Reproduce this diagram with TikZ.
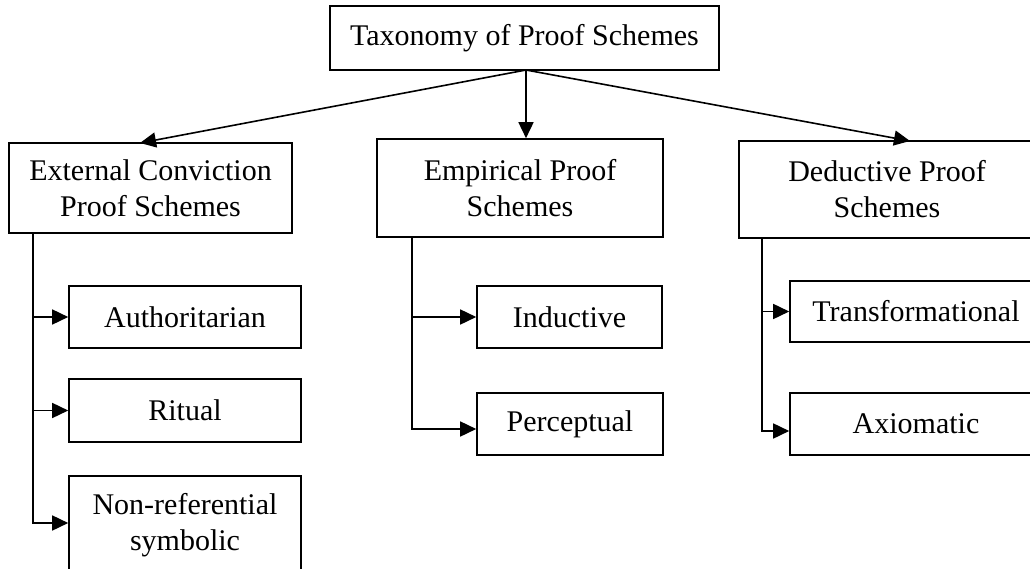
\documentclass[tikz,border=0pt]{standalone}
\usepackage{fontspec}
\setmainfont{Liberation Serif}
\usetikzlibrary{arrows.meta}
\begin{document}
\begin{tikzpicture}[x=1pt,y=-1pt,
  box/.style={draw,line width=1.6pt,rectangle,inner sep=0pt,align=center,
    font=\fontsize{30}{36}\selectfont},
  arr/.style={line width=1.6pt,-{Triangle[length=16pt,width=15pt]}}]
\useasboundingbox (0,0) rectangle (1030,569);
\clip (0,0) rectangle (1030,569);
\fill[white] (0,0) rectangle (1030,569);
\node[box,minimum width=389pt,minimum height=64pt] (top) at (524.5,38) {Taxonomy of Proof Schemes};
\node[box,minimum width=283pt,minimum height=90pt] (ec) at (150.5,188) {External Conviction\\Proof Schemes};
\node[box,minimum width=286pt,minimum height=98pt] (emp) at (520,188) {Empirical Proof\\Schemes};
\node[box,minimum width=296pt,minimum height=97pt] (ded) at (887,189.5) {Deductive Proof\\Schemes};
\node[box,minimum width=232pt,minimum height=62pt] (auth) at (185,317) {Authoritarian};
\node[box,minimum width=232pt,minimum height=63pt] (rit) at (185,410.5) {Ritual};
\node[box,minimum width=232pt,minimum height=98pt] (nonref) at (185,525) {Non-referential\\symbolic};
\node[box,minimum width=185pt,minimum height=62pt] (ind) at (569.5,317) {Inductive};
\node[box,minimum width=186pt,minimum height=62pt] (perc) at (570,424) {Perceptual};
\node[box,minimum width=252pt,minimum height=61pt] (trans) at (916,311.5) {Transformational};
\node[box,minimum width=252pt,minimum height=62pt] (axi) at (916,424) {Axiomatic};
\coordinate (hub) at (526,70);
\coordinate (ect) at (140,143);
\coordinate (dedt) at (910,141);
\draw[arr] (hub) -- (ect);
\draw[arr] (hub) -- (hub |- emp.north);
\draw[arr] (hub) -- (dedt);
\coordinate (ecv) at (33,233);
\coordinate (empv) at (412,237);
\coordinate (dedv) at (762,238);
\draw[arr] (ecv) |- (auth.west);
\draw[arr] (ecv) |- (rit.west);
\draw[arr] (ecv) |- ([yshift=2pt]nonref.west);
\draw[arr] (empv) |- (ind.west);
\draw[arr] (empv) |- ([yshift=-5pt]perc.west);
\draw[arr] (dedv) |- (trans.west);
\draw[arr] (dedv) |- ([yshift=-7pt]axi.west);
\end{tikzpicture}
\end{document}
